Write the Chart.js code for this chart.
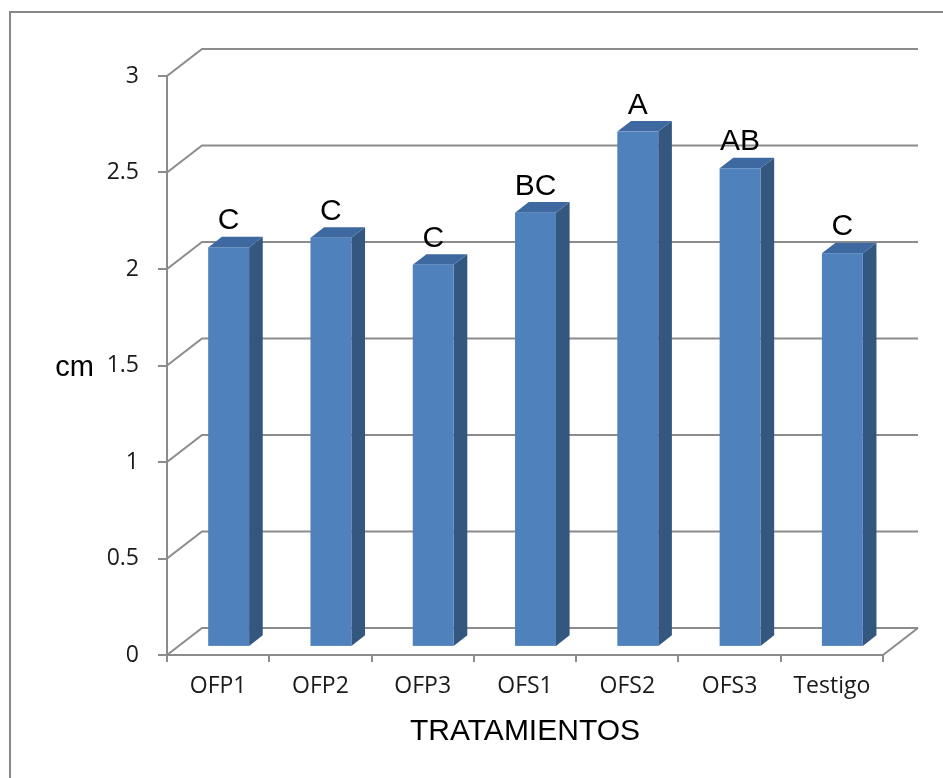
<!DOCTYPE html>
<html>
<head>
<meta charset="utf-8">
<script src="https://cdn.jsdelivr.net/npm/chart.js"></script>
<style>
    html, body { margin: 0; padding: 0; background: #fff; overflow: hidden; }
    #wrap { width: 943px; height: 778px; }
</style>
</head>
<body>
<div id="wrap"><canvas id="myChart" width="943" height="778"></canvas></div>
<script>
// Datos
const tratamientos = ["OFP1", "OFP2", "OFP3", "OFS1", "OFS2", "OFS3", "Testigo"];
const alturas = [2.07, 2.12, 1.98, 2.25, 2.67, 2.48, 2.04];
const letras = ["C", "C", "C", "BC", "A", "AB", "C"];
const yTicks = [0, 0.5, 1, 1.5, 2, 2.5, 3];

// Profundidad del efecto 3D (pared del fondo y barras)
const wallDx = 35, wallDy = 27;
const barFront = 0.3, barBack = 0.69;

const lineColor = '#8c8c8c';

const efecto3D = {
    id: 'efecto3D',
    beforeDraw(chart) {
        const ctx = chart.ctx;
        ctx.save();
        ctx.fillStyle = '#fff';
        ctx.fillRect(0, 0, chart.width, chart.height);
        // marco exterior
        ctx.strokeStyle = '#888';
        ctx.lineWidth = 2;
        ctx.strokeRect(10, 12, chart.width + 20, chart.height + 20);
        ctx.restore();
    },
    beforeDatasetsDraw(chart) {
        const { ctx, chartArea: a, scales: { y } } = chart;
        ctx.save();
        ctx.strokeStyle = lineColor;
        ctx.lineWidth = 2;
        // lineas de la pared del fondo
        yTicks.forEach(v => {
            const py = y.getPixelForValue(v);
            ctx.beginPath();
            ctx.moveTo(a.left, py);
            ctx.lineTo(a.left + wallDx, py - wallDy);
            ctx.lineTo(a.right + wallDx, py - wallDy);
            ctx.stroke();
        });
        // borde derecho del piso
        ctx.beginPath();
        ctx.moveTo(a.right, a.bottom);
        ctx.lineTo(a.right + wallDx, a.bottom - wallDy);
        ctx.stroke();
        ctx.restore();
    },
    afterDatasetsDraw(chart) {
        const ctx = chart.ctx;
        const meta = chart.getDatasetMeta(0);
        const fx = wallDx * barFront, fy = wallDy * barFront;
        const dx = wallDx * (barBack - barFront), dy = wallDy * (barBack - barFront);
        ctx.save();
        meta.data.forEach((el, i) => {
            const xl = el.x - el.width / 2 + fx;
            const xr = el.x + el.width / 2 + fx;
            const yt = el.y - fy;
            const yb = el.base - fy;

            // cara lateral
            ctx.fillStyle = '#34577f';
            ctx.beginPath();
            ctx.moveTo(xr, yt);
            ctx.lineTo(xr + dx, yt - dy);
            ctx.lineTo(xr + dx, yb - dy);
            ctx.lineTo(xr, yb);
            ctx.closePath();
            ctx.fill();

            // cara superior
            ctx.fillStyle = '#3e69a0';
            ctx.beginPath();
            ctx.moveTo(xl, yt);
            ctx.lineTo(xl + dx, yt - dy);
            ctx.lineTo(xr + dx, yt - dy);
            ctx.lineTo(xr, yt);
            ctx.closePath();
            ctx.fill();

            // cara frontal
            ctx.fillStyle = '#4f81bd';
            ctx.fillRect(xl, yt, xr - xl, yb - yt);

            // letras de significancia
            ctx.fillStyle = '#000';
            ctx.font = '30px "Liberation Sans", Arial, sans-serif';
            ctx.textAlign = 'center';
            ctx.textBaseline = 'alphabetic';
            ctx.fillText(letras[i], (xl + xr) / 2, yt - 18);
        });

        // titulos de ejes
        const a = chart.chartArea;
        ctx.font = '29px "Liberation Sans", Arial, sans-serif';
        ctx.textAlign = 'right';
        ctx.fillText('cm', a.left - 73, (a.top + a.bottom) / 2 + 10);
        ctx.font = '30px "Liberation Sans", Arial, sans-serif';
        ctx.textAlign = 'center';
        ctx.fillText('TRATAMIENTOS', (a.left + a.right) / 2, a.bottom + 85);
        ctx.restore();
    }
};

new Chart("myChart", {
    type: "bar",
    data: {
        labels: tratamientos,
        datasets: [{
            data: alturas,
            backgroundColor: 'rgba(0,0,0,0)',
            borderWidth: 0,
            categoryPercentage: 1,
            barPercentage: 0.4
        }]
    },
    options: {
        responsive: false,
        animation: false,
        layout: {
            padding: { top: 76, right: 60, left: 0, bottom: 0 }
        },
        scales: {
            x: {
                afterFit: s => { s.height = 123; },
                grid: {
                    drawOnChartArea: false,
                    color: lineColor,
                    lineWidth: 2,
                    tickLength: 7,
                    offset: true
                },
                border: { color: lineColor, width: 2 },
                ticks: {
                    padding: 11,
                    color: '#1a1a1a',
                    font: { family: '"Open Sans"', size: 23 }
                }
            },
            y: {
                min: 0,
                max: 3,
                afterFit: s => { s.width = 167; },
                afterBuildTicks: s => { s.ticks = yTicks.map(v => ({ value: v })); },
                grid: {
                    drawOnChartArea: false,
                    color: lineColor,
                    lineWidth: 2,
                    tickLength: 9
                },
                border: { color: lineColor, width: 2 },
                ticks: {
                    padding: 19,
                    color: '#1a1a1a',
                    font: { family: '"Open Sans"', size: 23 },
                    callback: v => String(v)
                }
            }
        },
        plugins: {
            legend: { display: false },
            tooltip: { enabled: false }
        }
    },
    plugins: [efecto3D]
});
</script>
</body>
</html>
